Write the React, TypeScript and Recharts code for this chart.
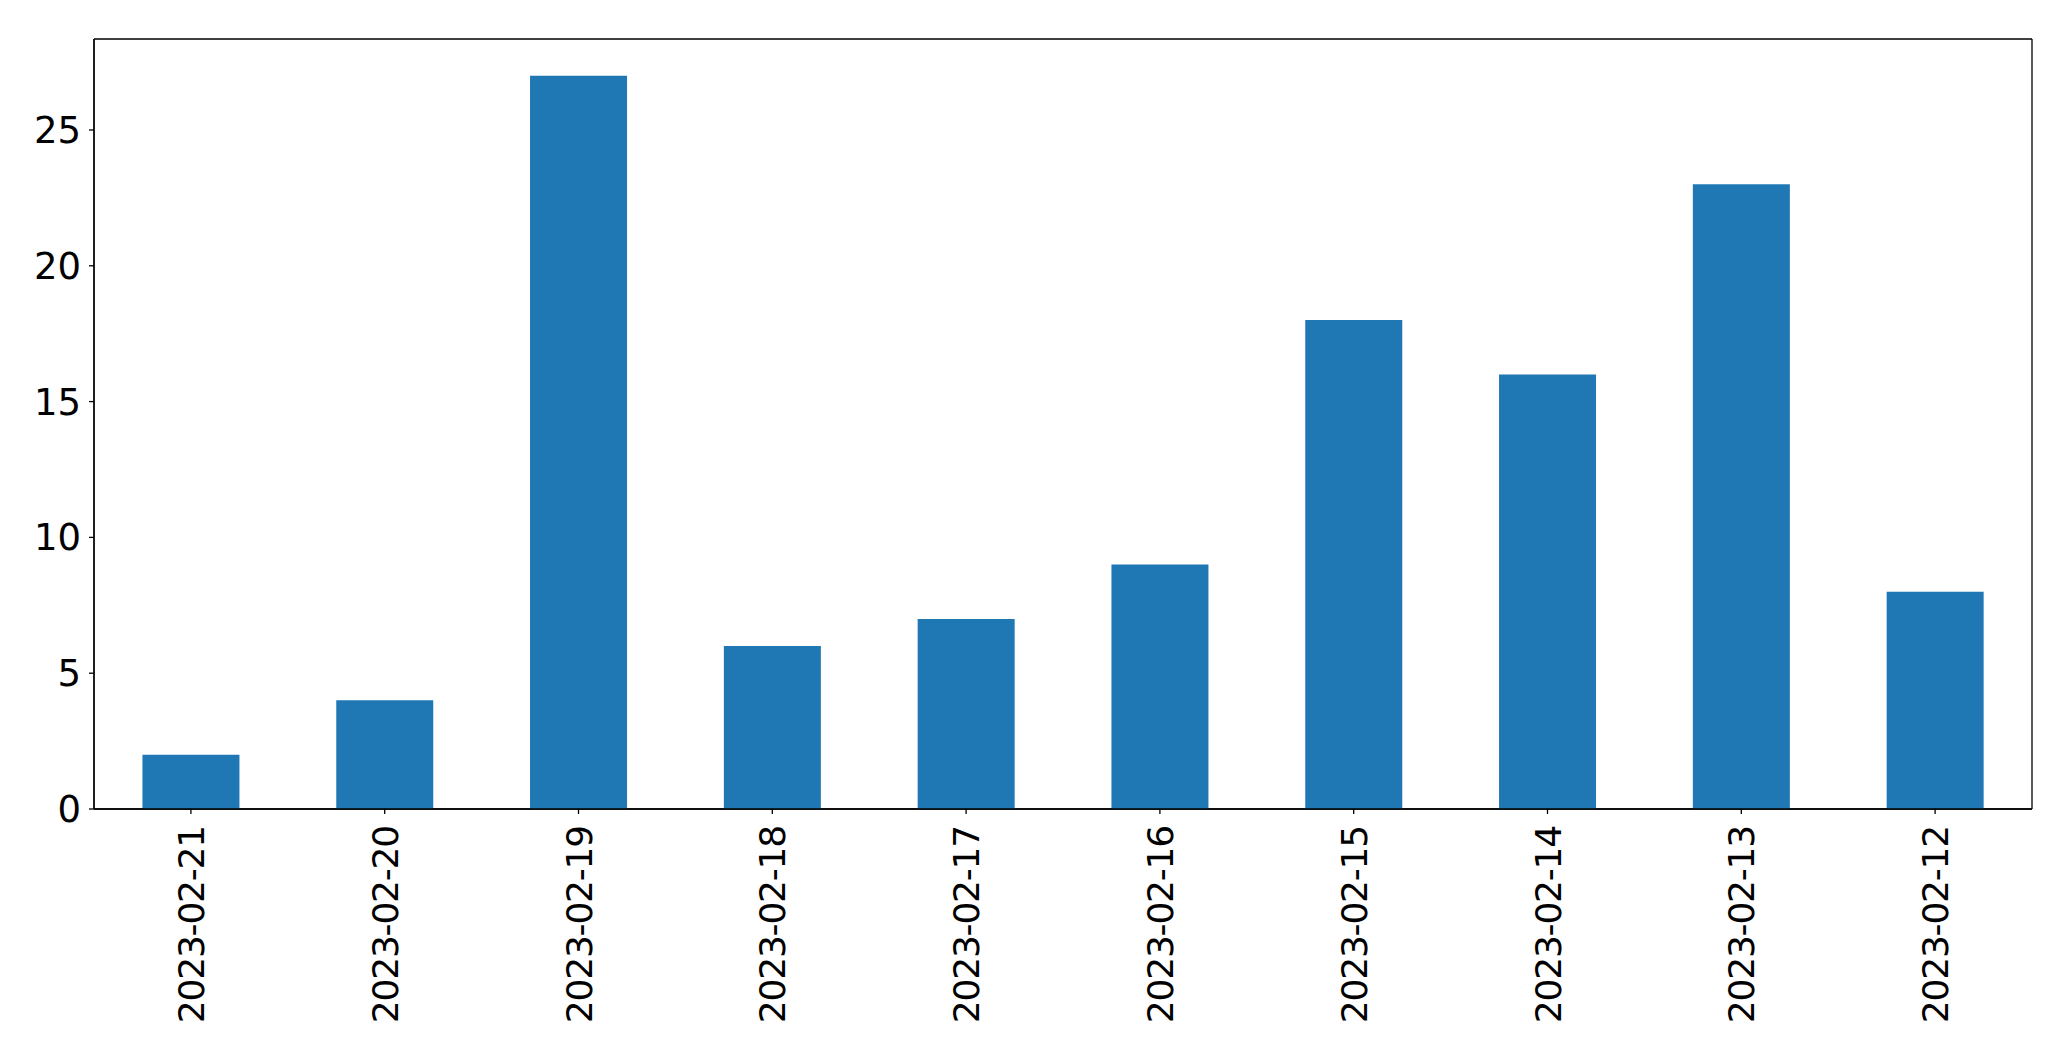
import { Bar, BarChart, CartesianGrid, XAxis, YAxis } from "recharts";

const dates = [
  "2023-02-21",
  "2023-02-20",
  "2023-02-19",
  "2023-02-18",
  "2023-02-17",
  "2023-02-16",
  "2023-02-15",
  "2023-02-14",
  "2023-02-13",
  "2023-02-12"
];
const counts = [2, 4, 27, 6, 7, 9, 18, 16, 23, 8];
const yTicks = [0, 5, 10, 15, 20, 25];

const data = dates.map((date, i) => ({ date, count: counts[i] }));

const FONT = "'DejaVu Sans', sans-serif";

function YTick(props: any) {
  const { x, y, payload } = props;
  return (
    <text x={x} y={y + 13} textAnchor="end" fontFamily={FONT} fontSize={37} fill="#000">
      {payload.value}
    </text>
  );
}

function XTick(props: any) {
  const { x, y, payload } = props;
  return (
    <text
      transform={`translate(${x + 13},${y}) rotate(-90)`}
      textAnchor="end"
      fontFamily={FONT}
      fontSize={36}
      letterSpacing={-1.2}
      fill="#000"
    >
      {payload.value}
    </text>
  );
}

// frame lines on the plot area edges (matplotlib spines)
const frameRows = ({ offset }: any) => [offset.top, offset.top + offset.height];
const frameCols = ({ offset }: any) => [offset.left, offset.left + offset.width];

export default function App() {
  return (
    <div style={{ position: "absolute", left: 0, top: 0, background: "#fff" }}>
      <BarChart
        width={2071}
        height={1061}
        data={data}
        margin={{ top: 39, right: 39, bottom: 0, left: 0 }}
        barCategoryGap="25%"
      >
        <CartesianGrid
          stroke="#000"
          strokeWidth={1.3}
          horizontalCoordinatesGenerator={frameRows}
          verticalCoordinatesGenerator={frameCols}
        />
        <XAxis
          dataKey="date"
          height={252}
          tick={<XTick />}
          tickSize={5}
          tickMargin={12}
          interval={0}
          stroke="#000"
          axisLine={{ stroke: "#000", strokeWidth: 1.3 }}
          tickLine={{ stroke: "#000", strokeWidth: 1.3 }}
        />
        <YAxis
          width={94}
          domain={[0, 28.35]}
          ticks={yTicks}
          tick={<YTick />}
          tickSize={5}
          tickMargin={8}
          stroke="#000"
          axisLine={{ stroke: "#000", strokeWidth: 1.3 }}
          tickLine={{ stroke: "#000", strokeWidth: 1.3 }}
        />
        <Bar dataKey="count" fill="#1f77b4" isAnimationActive={false} />
      </BarChart>
    </div>
  );
}
